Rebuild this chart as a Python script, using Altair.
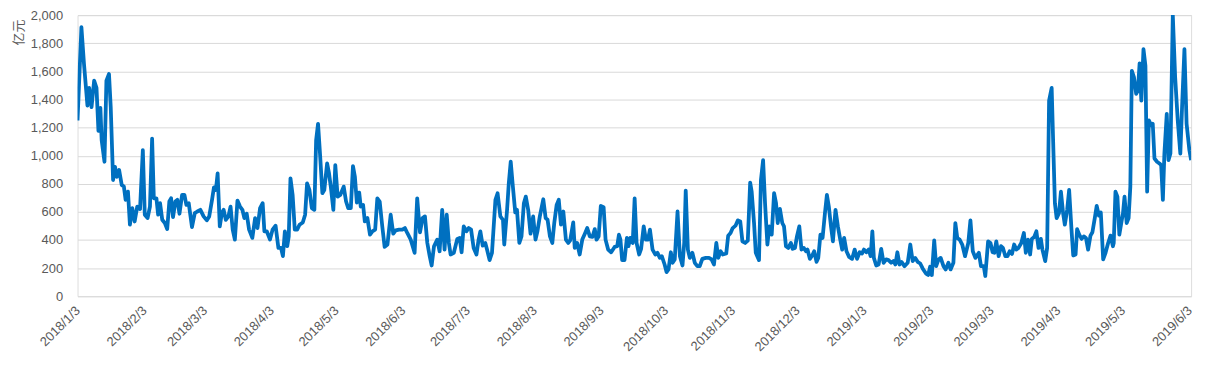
import altair as alt
import pandas as pd

# Day offsets from 2018-01-03 and values in 亿元
days = [0, 1.8, 3, 4.6, 5.4, 6.5, 7.7, 8.8, 9.7, 10.6, 11.2, 12.5, 13.4, 14.6, 15.4, 16.5, 17.4, 18.2, 19.3, 20.5,
        21.5, 22.3, 23.4, 24.3, 25.4, 26.5, 27.7, 29, 30.3, 31.2, 32.5, 33.6, 34.6, 35.4, 36.6, 37.4, 38.3, 39.3, 40.5, 41.6,
        42.6, 43.4, 44.3, 45.4, 46.3, 47.3, 48.5, 49.6, 50.5, 51.6, 53.1, 54.4, 55.6, 57, 58.5, 60, 61.1, 62.4, 63.3, 64.2,
        65, 66, 67, 67.8, 68.8, 70, 71, 72, 73, 74.2, 75.4, 76.5, 77.4, 78.5, 79.6, 81.1, 82.4, 83.5, 84.7, 85.9,
        86.7, 87.8, 89.3, 90.5, 91.9, 93.2, 94.4, 95.3, 96.2, 97.3, 98, 98.8, 99.8, 100.8,
        101.9, 103, 104.5, 105.6, 106.5, 107.6, 108.7, 109.9, 110.7, 111.6, 112.6, 113.6, 114.5, 115.8, 116.7, 117.6, 118.7, 119.6, 120.7, 121.9,
        123.5, 124.6, 125.6, 126.8, 127.8, 128.7, 129.6, 130.7, 131.4, 132.5, 133.3, 134.5, 135.7, 136.8, 138.1, 139.1, 140.2, 141.4, 142.5, 143.8,
        145.3, 146.5, 147.6, 149.2, 150.7, 151.9, 153, 154.6, 156.4, 157.6, 158.9, 160.1, 161.2, 162.3, 163.4, 164.3, 165.4, 166.9, 168, 169.2,
        170.3, 171.3, 172.3, 173.1, 174.6, 176.2, 177.3, 178.2, 179.2, 180.5, 181.5, 182.6, 183.8, 185.1, 186.1, 186.9, 188, 189.2, 190, 191.2,
        192.3, 193.9, 194.9, 196.2, 197.4, 198, 199.3, 200.1, 201, 202, 203.1, 203.9,
        205, 206, 207.1, 208, 209.1, 210.2, 211.4, 212.5, 213.4, 214.5, 216.1, 217.2, 218.1, 219.2, 220.3, 221.2, 222.3, 223.3, 224.3, 225.4,
        226.6, 227.7, 228.6, 230, 230.7, 231.8, 233, 234.2, 235.4, 236.5, 237.7, 238.9, 240, 240.8, 241.8, 242.8, 244.1, 245, 246.2, 247.6,
        249.2, 250.4, 251.2, 251.9, 252.7, 253.8, 254.9, 255.6, 256.5, 257.6, 258.5, 259.4, 260.6, 261.5, 262.7, 263.7, 264.7, 265.6, 266.8, 268.1,
        269.1, 270.2, 271.1, 272.4, 273.3, 274.2, 275.3, 276.1, 277.1, 278.4, 279.5, 280.7, 281.5, 282.2, 283.2, 284.1, 285.3, 286.4, 287.6, 288.7,
        289.9, 291.5, 293, 294.2, 295.3, 296.4, 297.3, 298.4, 299.4, 301, 301.9, 303, 304, 305.3, 306.4,
        307.5, 308.5, 309.8, 311, 312.1, 312.8, 313.9, 314.7, 316.2, 317.1, 318.1, 319, 320.1, 321, 322.1, 323.2, 324.1, 324.9, 325.9, 327,
        327.8, 328.7, 329.8, 331, 331.8, 332.9, 333.8, 334.9, 335.9, 337, 338, 338.7, 339.8, 340.9, 341.8, 342.9, 343.7, 344.7, 345.7, 346.8,
        347.7, 348.6, 349.6, 350.5, 351.7, 352.8, 353.9, 354.8, 355.7, 356.8, 358, 359.4, 360.6, 361.7, 362.9, 364, 364.9, 366, 367.1, 368,
        368.8, 369.5, 370.6, 371.7, 372.9, 374, 375.2, 376.3, 377.5, 378.6, 379.5, 380.4, 381.4, 382.4, 383.7, 385.2, 386.4, 387.5, 388.7, 389.8,
        391, 392.2, 393.6, 394.7, 395.6, 396.4, 397.5, 398.4, 399.5, 400.5, 401.8, 402.8, 404.1, 405.1, 406.4, 407.3, 408.2, 409.3, 410.5, 411.8,
        413.3, 414.3, 415.4, 416.6, 418.2, 419.2, 420.5, 421.2, 422.5, 423.6, 424.6, 425.4, 426.3, 427.4, 428.5, 429.4, 430.5, 431.5, 432.5, 433.6,
        434.6, 435.6, 436.6, 437.9, 439.1, 440, 441, 442, 442.8, 443.9, 444.9, 445.9, 447, 447.7, 449, 449.9, 450.8, 452, 452.8, 453.5,
        454.3, 455.4, 456.3, 457.3, 458.1, 459.2, 460.1, 461.2, 462, 463.1, 463.8, 464.8, 465.9, 466.9, 467.9, 468.9, 470, 470.9, 472, 472.9,
        473.9, 474.8, 475.9, 477, 478.2, 479.3, 480.4, 480.8, 481.6, 482.5, 483.4, 484.3, 485.1, 485.8, 486.8, 487.7, 488.5, 489.2, 490.2, 491.2,
        492, 492.8, 493.6, 494.6, 495.5, 496.3, 497.1, 498.2, 498.9, 499.7, 500.9, 502, 502.8, 503.6, 504.3, 505.4, 506.2, 507.1, 508.2, 509.3,
        510.5, 511.7, 512.5, 513.6, 514.6, 515.9, 516.7]

values = [1251, 1915, 1651, 1357, 1482, 1345, 1534, 1482, 1176, 1340, 1110, 957, 1534, 1581, 1345, 827, 921, 850, 898, 792,
          780, 686, 744, 509, 627, 532, 638, 620, 1039, 580, 556, 638, 1121, 697, 697, 580, 662, 544, 521, 478,
          674, 697, 563, 674, 686, 587, 721, 721, 650, 662, 492, 591, 603, 615, 568, 540, 568, 686, 775, 756,
          874, 497, 596, 615, 544, 568, 638, 474, 403, 681, 638, 615, 556, 587, 474, 415, 556, 485, 627, 662,
          462, 462, 403, 474, 502, 344, 344, 285, 462, 356, 426, 839, 721, 474,
          474, 509, 525, 580, 803, 756, 627, 615, 1110, 1227, 992, 733, 756, 945, 874, 768, 615, 933, 709, 721,
          780, 674, 627, 627, 926, 850, 667, 737, 638, 650, 532, 556, 438, 462, 474, 697, 674, 497, 351, 368,
          580, 445, 469, 474, 474, 485, 450, 403, 309, 697, 455, 556, 568, 379, 285, 219, 356, 403, 320, 615,
          332, 580, 379, 297, 309, 408, 415, 313, 497, 462, 485, 474, 344, 297, 403, 462, 360, 379, 332, 257,
          309, 686, 733, 568, 544, 368, 615, 803, 957, 780, 596, 615,
          379, 426, 662, 709, 615, 445, 568, 403, 462, 568, 690, 556, 544, 426, 379, 521, 650, 686, 509, 603,
          403, 379, 398, 525, 344, 379, 297, 403, 445, 485, 426, 422, 478, 403, 426, 643, 634, 403, 332, 313,
          351, 356, 438, 403, 257, 257, 415, 356, 415, 379, 697, 379, 297, 337, 497, 403, 403, 474, 332, 297,
          309, 273, 285, 226, 172, 191, 313, 238, 262, 603, 285, 219, 379, 752, 332, 273, 309, 238, 214, 214,
          266, 273, 273, 262, 226, 379, 273, 320, 297, 304, 431, 450, 485, 502, 540,
          532, 391, 379, 396, 808, 744, 521, 309, 257, 827, 968, 662, 368, 497, 438, 733, 662, 521, 622, 521,
          497, 356, 344, 379, 337, 344, 426, 497, 332, 344, 320, 332, 266, 290, 320, 245, 273, 438, 415, 591,
          721, 638, 497, 391, 615, 497, 403, 332, 415, 320, 280, 266, 332, 266, 313, 304, 332, 313, 332, 285,
          462, 273, 219, 226, 337, 238, 262, 257, 238, 250, 226, 313, 226, 243, 214, 238, 368, 250, 273, 245,
          233, 196, 163, 151, 210, 151, 398, 214, 262, 273, 214, 191, 238, 191, 238, 521, 415, 403, 368, 285,
          379, 540, 320, 273, 309, 214, 214, 144, 391, 379, 313, 309, 391, 285, 356, 344, 285, 285, 320, 301,
          368, 332, 344, 379, 450, 309, 403, 297, 408, 422, 462, 344, 408, 332, 250, 344, 1392, 1482, 1039, 662,
          556, 591, 744, 591, 509, 615, 756, 474, 290, 297, 478, 438, 408, 426, 415, 332, 431, 455, 556, 643,
          573, 596, 262, 309, 379, 431, 356, 379, 744, 709, 438, 521, 591, 709, 521, 556, 780, 1604, 1557, 1440,
          1463, 1656, 1392, 1758, 1640, 744, 1251, 1216, 1227, 980, 957, 945, 933, 686, 1015, 1298, 968, 1015, 2000, 1557,
          1251, 1015, 1345, 1758, 1227, 1039, 968]

tick_months = [(2018, m) for m in range(1, 13)] + [(2019, m) for m in range(1, 7)]

base = pd.Timestamp("2018-01-03")
dates = [(base + pd.to_timedelta(d, unit="D")).strftime("%Y-%m-%dT%H:%M:%S") for d in days]
df = pd.DataFrame({"date": dates, "value": values})

tick_values = [alt.DateTime(year=y, month=m, date=3) for y, m in tick_months]

grey = "#595959"
font = "Liberation Sans"

chart = alt.Chart(df).mark_line(color="#0070C0", strokeWidth=3.8, clip=True, strokeJoin="round").encode(
    x=alt.X("date:T",
            scale=alt.Scale(nice=False),
            axis=alt.Axis(values=tick_values, format="%Y/%-m/%-d", labelAngle=-45,
                          labelAlign="right", labelBaseline="middle", labelPadding=12,
                          ticks=False, tickSize=0, domain=False, grid=False,
                          labelFont=font, labelFontSize=13, labelColor=grey,
                          labelOverlap=False, labelFlush=False, labelBound=False, title=None)),
    y=alt.Y("value:Q",
            scale=alt.Scale(domain=[0, 2000], nice=False),
            axis=alt.Axis(values=list(range(0, 2001, 200)), format=",d",
                          ticks=False, tickSize=0, domain=False, grid=True,
                          gridColor="#d9d9d9", gridWidth=1,
                          labelFont=font, labelFontSize=13, labelColor=grey, labelPadding=15,
                          title="亿元", titleFont="Noto Sans CJK SC", titleFontSize=13,
                          titleFontWeight="normal", titleColor=grey, titleAngle=-90,
                          titleX=-59, titleY=4, titleAlign="right", titleBaseline="middle")),
).properties(
    width=1121,
    height=283,
    autosize=alt.AutoSizeParams(type="none"),
    padding={"left": 70, "top": 6, "right": 17, "bottom": 62},
).configure_view(stroke=None).configure(background="white")

chart.save("out.html", embed_options={"renderer": "svg", "actions": False})
